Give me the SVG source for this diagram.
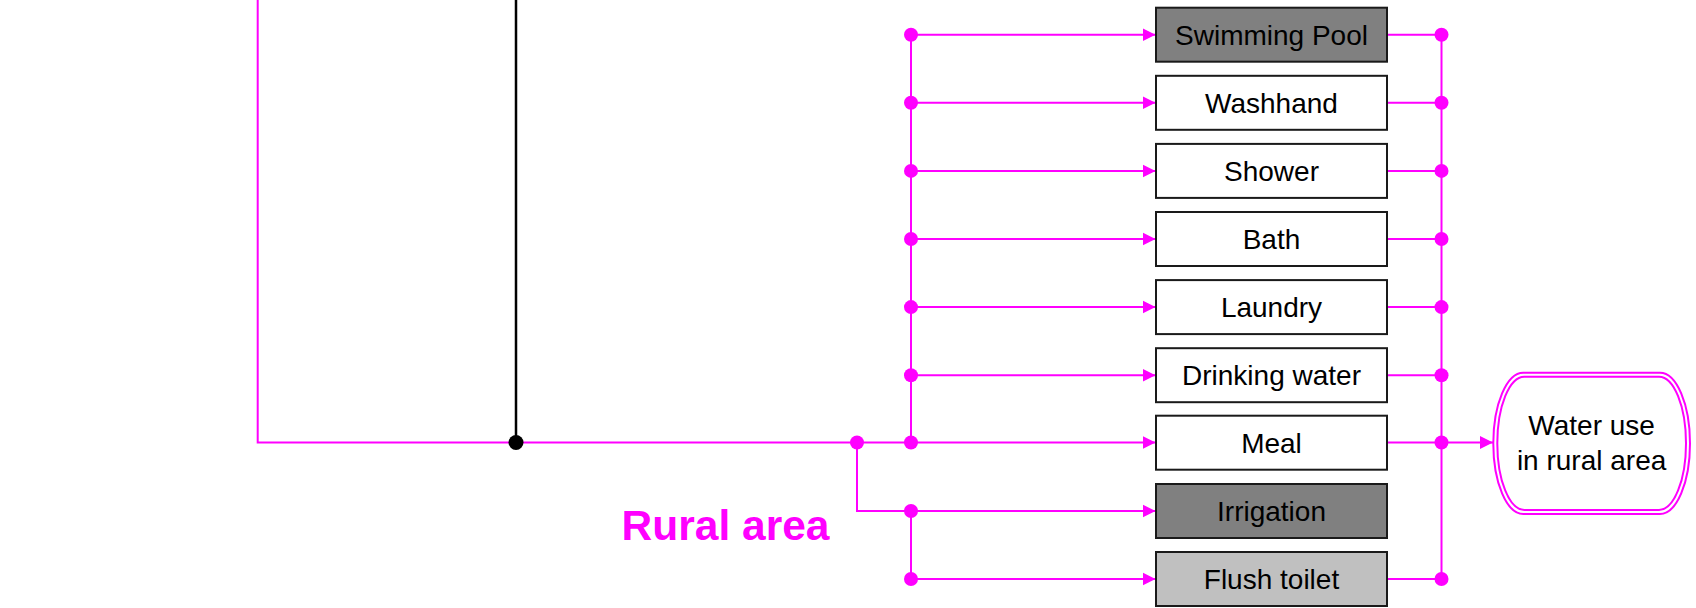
<svg xmlns="http://www.w3.org/2000/svg" width="1696" height="608" viewBox="0 0 1696 608">
<style>
.box{stroke:#1a1a1a;stroke-width:2}
.w{fill:#ffffff}.dg{fill:#808080}.lg{fill:#c0c0c0}
.t{font-family:"Liberation Sans",Arial,sans-serif;font-size:28px;fill:#000;text-anchor:middle}
.m{stroke:#ff00ff;stroke-width:2;fill:none}
.dot{fill:#ff00ff}
</style>
<defs>
<marker id="ah" markerWidth="14" markerHeight="14" refX="13" refY="7" orient="auto" markerUnits="userSpaceOnUse">
<path d="M0,0.5 L13,7 L0,13.5 Z" fill="#ff00ff"/>
</marker>
</defs>
<rect width="1696" height="608" fill="#ffffff"/>
<g id="connectors">
<path class="m" d="M257.7,0 V442.5 H911"/>
<line x1="516" y1="0" x2="516" y2="442.5" stroke="#000" stroke-width="2.5"/>
<circle cx="516" cy="442.5" r="7.5" fill="#000"/>
<path class="m" d="M911,34.7 V442.5"/>
<path class="m" d="M857,442.5 V511 H911 V579"/>
<g marker-end="url(#ah)">
<line class="m" x1="911" y1="34.7" x2="1155.5" y2="34.7"/>
<line class="m" x1="911" y1="102.8" x2="1155.5" y2="102.8"/>
<line class="m" x1="911" y1="170.9" x2="1155.5" y2="170.9"/>
<line class="m" x1="911" y1="239" x2="1155.5" y2="239"/>
<line class="m" x1="911" y1="307.1" x2="1155.5" y2="307.1"/>
<line class="m" x1="911" y1="375.2" x2="1155.5" y2="375.2"/>
<line class="m" x1="911" y1="442.5" x2="1155.5" y2="442.5"/>
<line class="m" x1="911" y1="511" x2="1155.5" y2="511"/>
<line class="m" x1="911" y1="579" x2="1155.5" y2="579"/>
<line class="m" x1="1441.5" y1="442.5" x2="1493" y2="442.5"/>
</g>
<path class="m" d="M1387,34.7 H1441.5 M1387,102.8 H1441.5 M1387,170.9 H1441.5 M1387,239 H1441.5 M1387,307.1 H1441.5 M1387,375.2 H1441.5 M1387,442.5 H1441.5 M1387,579 H1441.5 M1441.5,34.7 V579"/>
<g class="dot">
<circle cx="857" cy="442.5" r="7"/>
<circle cx="911" cy="34.7" r="7"/>
<circle cx="911" cy="102.8" r="7"/>
<circle cx="911" cy="170.9" r="7"/>
<circle cx="911" cy="239" r="7"/>
<circle cx="911" cy="307.1" r="7"/>
<circle cx="911" cy="375.2" r="7"/>
<circle cx="911" cy="442.5" r="7"/>
<circle cx="911" cy="511" r="7"/>
<circle cx="911" cy="579" r="7"/>
<circle cx="1441.5" cy="34.7" r="7"/>
<circle cx="1441.5" cy="102.8" r="7"/>
<circle cx="1441.5" cy="170.9" r="7"/>
<circle cx="1441.5" cy="239" r="7"/>
<circle cx="1441.5" cy="307.1" r="7"/>
<circle cx="1441.5" cy="375.2" r="7"/>
<circle cx="1441.5" cy="442.5" r="7"/>
<circle cx="1441.5" cy="579" r="7"/>
</g>
</g>
<g id="swimming-pool"><rect class="box dg" x="1156" y="7.7" width="231" height="54"/><text class="t" x="1271.5" y="44.7">Swimming Pool</text></g>
<g id="washhand"><rect class="box w" x="1156" y="75.8" width="231" height="54"/><text class="t" x="1271.5" y="112.8">Washhand</text></g>
<g id="shower"><rect class="box w" x="1156" y="143.9" width="231" height="54"/><text class="t" x="1271.5" y="180.9">Shower</text></g>
<g id="bath"><rect class="box w" x="1156" y="212" width="231" height="54"/><text class="t" x="1271.5" y="249">Bath</text></g>
<g id="laundry"><rect class="box w" x="1156" y="280.1" width="231" height="54"/><text class="t" x="1271.5" y="317.1">Laundry</text></g>
<g id="drinking-water"><rect class="box w" x="1156" y="348.2" width="231" height="54"/><text class="t" x="1271.5" y="385.2">Drinking water</text></g>
<g id="meal"><rect class="box w" x="1156" y="415.7" width="231" height="54"/><text class="t" x="1271.5" y="452.5">Meal</text></g>
<g id="irrigation"><rect class="box dg" x="1156" y="484" width="231" height="54"/><text class="t" x="1271.5" y="521">Irrigation</text></g>
<g id="flush-toilet"><rect class="box lg" x="1156" y="552" width="231" height="54"/><text class="t" x="1271.5" y="589">Flush toilet</text></g>
<g id="water-use-rural">
<rect x="1493.3" y="372.7" width="196.7" height="141.3" rx="30" ry="70.6" fill="#fff" stroke="#ff00ff" stroke-width="2"/>
<rect x="1497.3" y="376.7" width="188.7" height="133.3" rx="27" ry="66.6" fill="none" stroke="#ff00ff" stroke-width="2"/>
<text class="t" x="1591.6" y="435">Water use</text>
<text class="t" x="1591.6" y="470">in rural area</text>
</g>
<g id="rural-area-label"><text x="725.5" y="540" font-family="'Liberation Sans',Arial,sans-serif" font-size="42.5" font-weight="bold" fill="#ff00ff" text-anchor="middle">Rural area</text></g>
</svg>
